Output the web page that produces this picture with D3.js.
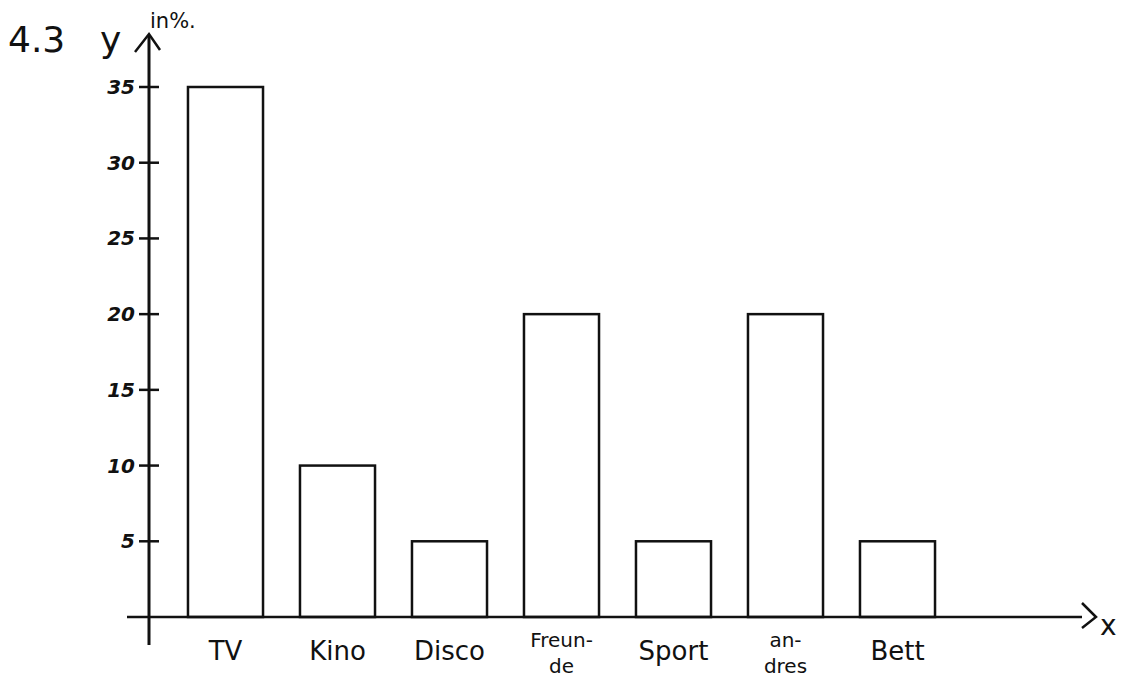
<!DOCTYPE html>
<html>
<head>
<meta charset="utf-8">
<script src="https://cdn.jsdelivr.net/npm/d3@7"></script>
<style>
  body { margin: 0; background: #fff; }
  svg { display: block; }
</style>
</head>
<body>
<div id="chart"></div>
<script>
const categories = ['TV', 'Kino', 'Disco', 'Freunde', 'Sport', 'andres', 'Bett'];
const values = [35, 10, 5, 20, 5, 20, 5];
const tickValues = [5, 10, 15, 20, 25, 30, 35];
// hyphenated labels as written under the bars
const labelLines = [['TV'], ['Kino'], ['Disco'], ['Freun-', 'de'], ['Sport'], ['an-', 'dres'], ['Bett']];

const width = 1132, height = 683;
const ink = '#111';

const svg = d3.select('#chart').append('svg')
  .attr('width', width)
  .attr('height', height)
  .attr('font-family', '"DejaVu Sans", sans-serif');

const x = d3.scaleBand()
  .domain(categories)
  .range([169.5, 953.5])
  .paddingInner(0.33)
  .paddingOuter(0.165);

const y = d3.scaleLinear()
  .domain([0, 35])
  .range([617, 87]);

const axisX = 149;

// bars
svg.append('g').selectAll('rect')
  .data(values)
  .join('rect')
  .attr('x', (d, i) => x(categories[i]))
  .attr('y', d => y(d))
  .attr('width', x.bandwidth())
  .attr('height', d => y(0) - y(d))
  .attr('fill', 'none')
  .attr('stroke', ink)
  .attr('stroke-width', 2.5);

// y axis line with arrow
svg.append('line')
  .attr('x1', axisX).attr('x2', axisX)
  .attr('y1', 645).attr('y2', 36)
  .attr('stroke', ink).attr('stroke-width', 3);
svg.append('path')
  .attr('d', `M${axisX - 14},${52} L${axisX},${34} L${axisX + 11},${50}`)
  .attr('fill', 'none').attr('stroke', ink).attr('stroke-width', 2.5);

// y ticks
const yt = svg.append('g');
yt.selectAll('line')
  .data(tickValues)
  .join('line')
  .attr('x1', axisX - 10).attr('x2', axisX + 10)
  .attr('y1', d => y(d)).attr('y2', d => y(d))
  .attr('stroke', ink).attr('stroke-width', 2.5);
yt.selectAll('text')
  .data(tickValues)
  .join('text')
  .attr('x', axisX - 14)
  .attr('y', d => y(d))
  .attr('dy', '0.35em')
  .attr('text-anchor', 'end')
  .attr('font-size', 20)
  .attr('font-style', 'italic')
  .attr('font-weight', 'bold')
  .attr('fill', ink)
  .text(d => d);

// x axis line with arrow
svg.append('line')
  .attr('x1', 127).attr('x2', 1082)
  .attr('y1', y(0)).attr('y2', y(0))
  .attr('stroke', ink).attr('stroke-width', 2.5);
svg.append('path')
  .attr('d', `M1082,${y(0) - 14} L1096,${y(0)} L1082,${y(0) + 11}`)
  .attr('fill', 'none').attr('stroke', ink).attr('stroke-width', 2.5);
svg.append('text')
  .attr('x', 1100).attr('y', y(0) + 18)
  .attr('font-size', 28)
  .attr('fill', ink)
  .text('x');

// x labels
const xl = svg.append('g');
labelLines.forEach((lines, i) => {
  const cx = x(categories[i]) + x.bandwidth() / 2;
  lines.forEach((t, j) => {
    xl.append('text')
      .attr('x', cx)
      .attr('y', lines.length > 1 ? 647 + j * 26 : 660)
      .attr('text-anchor', 'middle')
      .attr('font-size', lines.length > 1 ? 20 : 26)
      .attr('fill', ink)
      .text(t);
  });
});

// title
svg.append('text')
  .attr('x', 8).attr('y', 52)
  .attr('font-size', 36)
  .attr('fill', ink)
  .text('4.3');
svg.append('text')
  .attr('x', 100).attr('y', 52)
  .attr('font-size', 36)
  .attr('fill', ink)
  .text('y');
svg.append('text')
  .attr('x', 150).attr('y', 28)
  .attr('font-size', 21)
  .attr('fill', ink)
  .text('in%.');
</script>
</body>
</html>
